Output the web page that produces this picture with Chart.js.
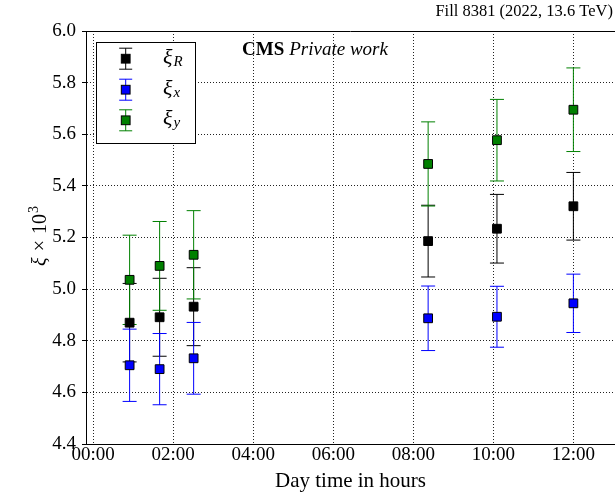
<!DOCTYPE html>
<html><head><meta charset="utf-8">
<script src="https://cdn.jsdelivr.net/npm/chart.js@4.4.1/dist/chart.umd.min.js"></script>
<style>html,body{margin:0;padding:0;background:#fff}#wrap{width:615px;height:493px}</style>
</head><body><div id="wrap"><canvas id="c" width="615" height="493"></canvas></div>
<script>
// ---- data (hours of day) ----
const timesHours = [0.91, 1.66, 2.51, 8.37, 10.09, 12.0];
const xiR    = [4.870, 4.891, 4.932, 5.186, 5.234, 5.321];
const xiRErr = [0.152, 0.151, 0.151, 0.139, 0.133, 0.131];
const xiX    = [4.705, 4.690, 4.732, 4.887, 4.893, 4.945];
const xiXErr = [0.140, 0.138, 0.139, 0.125, 0.118, 0.113];
const xiY    = [5.036, 5.090, 5.133, 5.485, 5.577, 5.695];
const xiYErr = [0.173, 0.172, 0.171, 0.163, 0.158, 0.162];
const xTicks = [0, 2, 4, 6, 8, 10, 12];
const yTicks = [4.4, 4.6, 4.8, 5.0, 5.2, 5.4, 5.6, 5.8, 6.0];
const seriesSubs = ['R', 'x', 'y'];
const seriesColors = ['#000000', '#0000ff', '#008000'];
const titleRight = 'Fill 8381 (2022, 13.6 TeV)';
const xTitle = 'Day time in hours';

const SERIF = '"Liberation Serif", "DejaVu Serif", serif';
const values = [xiR, xiX, xiY];
const errors = [xiRErr, xiXErr, xiYErr];
const PR = 6.2;

const datasets = values.map((vals, k) => ({
  label: '\u03BE_' + seriesSubs[k],
  data: timesHours.map((t, i) => ({x: t, y: vals[i]})),
  errs: errors[k],
  pointStyle: 'rect',
  pointRadius: PR,
  pointHoverRadius: PR,
  borderWidth: 1,
  backgroundColor: seriesColors[k],
  borderColor: '#000',
  showLine: false
}));

const errorBars = {
  id: 'errorBars',
  beforeDatasetsDraw(chart) {
    const {ctx, chartArea} = chart;
    const xs = chart.scales.x, ys = chart.scales.y;
    ctx.save();
    ctx.beginPath();
    ctx.rect(chartArea.left, chartArea.top, chartArea.right - chartArea.left, chartArea.bottom - chartArea.top);
    ctx.clip();
    ctx.lineWidth = 1;
    chart.data.datasets.forEach((ds, k) => {
      ctx.strokeStyle = seriesColors[k];
      ds.data.forEach((p, i) => {
        const e = ds.errs[i];
        const px = xs.getPixelForValue(p.x);
        const y1 = ys.getPixelForValue(p.y - e);
        const y2 = ys.getPixelForValue(p.y + e);
        ctx.beginPath();
        ctx.moveTo(px, y1); ctx.lineTo(px, y2);
        ctx.moveTo(px - 7, y1); ctx.lineTo(px + 7, y1);
        ctx.moveTo(px - 7, y2); ctx.lineTo(px + 7, y2);
        ctx.stroke();
      });
    });
    ctx.restore();
  }
};

const decorations = {
  id: 'decorations',
  afterDraw(chart) {
    const {ctx, chartArea} = chart;
    ctx.save();
    // top frame line
    ctx.strokeStyle = '#000'; ctx.lineWidth = 1;
    ctx.beginPath();
    ctx.moveTo(chartArea.left, Math.round(chartArea.top) + 0.5);
    ctx.lineTo(chartArea.right, Math.round(chartArea.top) + 0.5);
    ctx.stroke();

    // top-right label
    ctx.fillStyle = '#000';
    ctx.font = '16.5px ' + SERIF;
    ctx.textAlign = 'right'; ctx.textBaseline = 'alphabetic';
    ctx.fillText(titleRight, 613, 16);

    // CMS Private work
    ctx.textAlign = 'left';
    ctx.font = 'bold 19px ' + SERIF;
    ctx.fillText('CMS', 242, 55);
    const wc = ctx.measureText('CMS').width;
    ctx.font = 'italic 19px ' + SERIF;
    ctx.fillText('Private work', 242 + wc + 5, 55);

    // y-axis title: ξ × 10^3 (rotated)
    ctx.save();
    ctx.translate(46, 236);
    ctx.rotate(-Math.PI / 2);
    ctx.font = 'italic 20px ' + SERIF;
    const wXi = ctx.measureText('\u03BE').width;
    ctx.font = '20px ' + SERIF;
    const wTimes = ctx.measureText('\u00D7').width;
    const wTen = ctx.measureText('10').width;
    ctx.font = '14px ' + SERIF;
    const wThree = ctx.measureText('3').width;
    const gap = 6;
    const total = wXi + gap + wTimes + gap + wTen + 1 + wThree;
    let cx = -total / 2;
    ctx.textAlign = 'left';
    ctx.font = 'italic 20px ' + SERIF;
    ctx.fillText('\u03BE', cx, 0); cx += wXi + gap;
    ctx.font = '20px ' + SERIF;
    ctx.fillText('\u00D7', cx, 0); cx += wTimes + gap;
    ctx.fillText('10', cx, 0); cx += wTen + 1;
    ctx.font = '14px ' + SERIF;
    ctx.fillText('3', cx, -8);
    ctx.restore();

    // legend
    const lx = 96.5, ly = 42.5, lw = 99, lh = 101;
    ctx.fillStyle = '#fff';
    ctx.fillRect(lx, ly, lw, lh);
    ctx.strokeStyle = '#000'; ctx.lineWidth = 1;
    ctx.strokeRect(lx, ly, lw, lh);
    const rows = [58.7, 89.7, 120.3];
    const mx = 125.7;
    chart.data.datasets.forEach((ds, k) => {
      const ry = rows[k];
      ctx.strokeStyle = seriesColors[k];
      ctx.beginPath();
      ctx.moveTo(mx, ry - 10.5); ctx.lineTo(mx, ry + 10.5);
      ctx.moveTo(mx - 6.5, ry - 10.5); ctx.lineTo(mx + 6.5, ry - 10.5);
      ctx.moveTo(mx - 6.5, ry + 10.5); ctx.lineTo(mx + 6.5, ry + 10.5);
      ctx.stroke();
      const s = PR * Math.SQRT1_2;
      ctx.fillStyle = seriesColors[k];
      ctx.fillRect(mx - s, ry - s, 2 * s, 2 * s);
      ctx.strokeStyle = '#000';
      ctx.strokeRect(mx - s, ry - s, 2 * s, 2 * s);
      ctx.fillStyle = '#000';
      ctx.font = 'italic 22px ' + SERIF;
      ctx.fillText('\u03BE', 163, ry + 5);
      const w = ctx.measureText('\u03BE').width;
      ctx.font = 'italic 15px ' + SERIF;
      ctx.fillText(seriesSubs[k], 163 + w + 1, ry + 7);
    });
    ctx.restore();
  }
};

new Chart(document.getElementById('c'), {
  type: 'scatter',
  data: {datasets},
  plugins: [errorBars, decorations],
  options: {
    responsive: false,
    devicePixelRatio: 1,
    animation: false,
    events: [],
    layout: {autoPadding: false, padding: {left: 0, top: 31, right: 0, bottom: 0}},
    plugins: {legend: {display: false}, tooltip: {enabled: false}},
    scales: {
      x: {
        type: 'linear',
        min: -0.18, max: 13.04,
        afterBuildTicks: s => { s.ticks = xTicks.map(v => ({value: v})); },
        afterFit: s => { s.height = 49; },
        ticks: {
          color: '#000',
          font: {family: SERIF, size: 19},
          padding: 0,
          maxRotation: 0,
          autoSkip: false,
          callback: v => String(v).padStart(2, '0') + ':00'
        },
        grid: {color: '#222', lineWidth: 1, drawTicks: false},
        border: {display: true, color: '#000', width: 1, dash: [1, 2]},
        title: {display: true, text: xTitle, color: '#000',
                font: {family: SERIF, size: 21, lineHeight: 1.1}, padding: {top: 0, bottom: 0}}
      },
      y: {
        type: 'linear',
        min: 4.4, max: 6.0,
        afterBuildTicks: s => { s.ticks = yTicks.map(v => ({value: v})); },
        afterFit: s => { s.width = 86; },
        ticks: {
          color: '#000',
          font: {family: SERIF, size: 19},
          padding: 6,
          callback: v => v.toFixed(1)
        },
        grid: {color: '#222', lineWidth: 1, drawTicks: true, tickLength: 4, tickColor: '#000', tickBorderDash: []},
        border: {display: true, color: '#000', width: 1, dash: [1, 2]}
      }
    }
  }
});
</script>
</body></html>
